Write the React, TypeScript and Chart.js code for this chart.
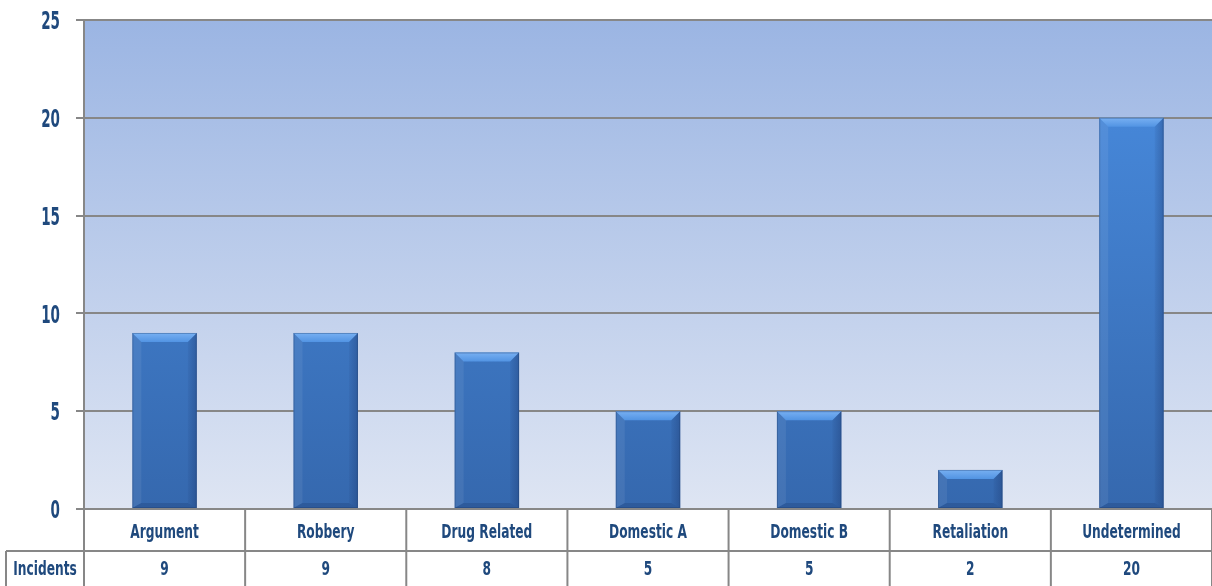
import React, { useEffect, useRef } from "react";
import { Chart, registerables } from "chart.js";

Chart.register(...registerables);

const categories = ["Argument", "Robbery", "Drug Related", "Domestic A", "Domestic B", "Retaliation", "Undetermined"];
const incidents = [9, 9, 8, 5, 5, 2, 20];
const seriesLabel = "Incidents";
const yMin = 0;
const yMax = 25;
const yStep = 5;

const FONT = "'DejaVu Sans Condensed', 'DejaVu Sans', sans-serif";
const TEXT = "#1F497D";
const LINE = "#878787";

function narrowText(ctx: any, text: string, x: number, yCenter: number, size: number, sx: number, align: "center" | "right") {
  ctx.save();
  ctx.font = `bold ${size}px ${FONT}`;
  ctx.fillStyle = TEXT;
  ctx.textAlign = align;
  ctx.textBaseline = "alphabetic";
  ctx.translate(x, yCenter + size * 0.365);
  ctx.scale(sx, 1);
  ctx.fillText(text, 0, 0);
  ctx.restore();
}

const bgPlugin = {
  id: "plotBg",
  beforeDraw(chart: any) {
    const { ctx, chartArea: a } = chart;
    const g = ctx.createLinearGradient(0, a.top, 0, a.bottom);
    g.addColorStop(0, "#9BB5E3");
    g.addColorStop(1, "#DEE5F3");
    ctx.save();
    ctx.fillStyle = g;
    ctx.fillRect(a.left, a.top, a.right - a.left, a.bottom - a.top);
    ctx.restore();
  },
};

const yLabelPlugin = {
  id: "yLabels",
  afterDraw(chart: any) {
    const ys = chart.scales.y;
    ys.ticks.forEach((t: any) => {
      const py = ys.getPixelForValue(t.value);
      narrowText(chart.ctx, String(t.value), 60, py, 25, 0.6, "right");
    });
  },
};

const bevelPlugin = {
  id: "bevel",
  afterDatasetsDraw(chart: any) {
    const { ctx } = chart;
    const meta = chart.getDatasetMeta(0);
    ctx.save();
    meta.data.forEach((el: any) => {
      const p = el.getProps(["x", "y", "base", "width"], true);
      const L = p.x - p.width / 2;
      const R = p.x + p.width / 2;
      const T = p.y;
      const B = p.base;
      const b = Math.min(9, (B - T) / 2);
      const bb = Math.min(5, (B - T) / 4);
      const tg = ctx.createLinearGradient(0, T, 0, T + b);
      tg.addColorStop(0, "#78B0F2");
      tg.addColorStop(1, "#5294E3");
      ctx.fillStyle = tg;
      ctx.beginPath();
      ctx.moveTo(L, T);
      ctx.lineTo(R, T);
      ctx.lineTo(R - b, T + b);
      ctx.lineTo(L + b, T + b);
      ctx.closePath();
      ctx.fill();
      ctx.fillStyle = "rgba(255,255,255,0.07)";
      ctx.beginPath();
      ctx.moveTo(L, T);
      ctx.lineTo(L + b, T + b);
      ctx.lineTo(L + b, B - bb);
      ctx.lineTo(L, B);
      ctx.closePath();
      ctx.fill();
      const rg = ctx.createLinearGradient(R - b, 0, R, 0);
      rg.addColorStop(0, "rgba(20,40,90,0.06)");
      rg.addColorStop(1, "rgba(20,40,90,0.30)");
      ctx.fillStyle = rg;
      ctx.beginPath();
      ctx.moveTo(R, T);
      ctx.lineTo(R - b, T + b);
      ctx.lineTo(R - b, B - bb);
      ctx.lineTo(R, B);
      ctx.closePath();
      ctx.fill();
      ctx.fillStyle = "rgba(20,40,90,0.22)";
      ctx.beginPath();
      ctx.moveTo(L, B);
      ctx.lineTo(L + b, B - bb);
      ctx.lineTo(R - b, B - bb);
      ctx.lineTo(R, B);
      ctx.closePath();
      ctx.fill();
      ctx.strokeStyle = "rgba(30,60,110,0.35)";
      ctx.lineWidth = 1;
      ctx.strokeRect(L + 0.5, T + 0.5, p.width - 1, B - T - 1);
    });
    ctx.restore();
  },
};

const tablePlugin = {
  id: "dataTable",
  afterDraw(chart: any) {
    const { ctx, chartArea: a } = chart;
    const xs = chart.scales.x;
    const H = chart.height;
    const row1Top = a.bottom;
    const row2Top = a.bottom + 42;
    const n = categories.length;
    const colW = (a.right - a.left) / n;
    ctx.save();
    ctx.strokeStyle = LINE;
    ctx.lineWidth = 2;
    ctx.beginPath();
    ctx.moveTo(6, row2Top);
    ctx.lineTo(a.right, row2Top);
    ctx.stroke();
    ctx.beginPath();
    ctx.moveTo(6, row2Top);
    ctx.lineTo(6, H);
    for (let i = 0; i <= n; i++) {
      const xv = i < n ? xs.getPixelForValue(i) - colW / 2 : xs.getPixelForValue(n - 1) + colW / 2;
      ctx.moveTo(xv, row1Top);
      ctx.lineTo(xv, H);
    }
    ctx.stroke();
    ctx.restore();
    categories.forEach((c, i) => {
      const cx = xs.getPixelForValue(i);
      narrowText(ctx, c, cx, row1Top + 22, 20, 0.68, "center");
      narrowText(ctx, String(incidents[i]), cx, row2Top + 17, 20, 0.68, "center");
    });
    narrowText(ctx, seriesLabel, (6 + a.left) / 2, row2Top + 17, 20, 0.68, "center");
  },
};

export default function App() {
  const ref = useRef<HTMLCanvasElement | null>(null);
  useEffect(() => {
    document.body.style.margin = "0";
    const canvas = ref.current!;
    const chart = new Chart(canvas, {
      type: "bar",
      data: {
        labels: categories,
        datasets: [
          {
            label: seriesLabel,
            data: incidents,
            barPercentage: 0.4,
            categoryPercentage: 1.0,
            borderWidth: 0,
            backgroundColor: (c: any) => {
              const a = c.chart.chartArea;
              if (!a) return "#3F7BC9";
              const g = c.chart.ctx.createLinearGradient(0, a.top, 0, a.bottom);
              g.addColorStop(0, "#4A8EE2");
              g.addColorStop(1, "#3568AE");
              return g;
            },
          },
        ],
      },
      options: {
        responsive: false,
        animation: false,
        layout: { padding: { top: 20, bottom: 77, left: 0, right: 0 } },
        plugins: { legend: { display: false }, tooltip: { enabled: false } },
        scales: {
          x: { display: false, offset: true },
          y: {
            min: yMin,
            max: yMax,
            afterFit: (s: any) => {
              s.width = 84;
            },
            ticks: { stepSize: yStep, display: false },
            grid: { color: LINE, lineWidth: 2, tickLength: 8, drawTicks: true },
            border: { display: true, color: LINE, width: 2 },
          },
        },
      },
      plugins: [bgPlugin, bevelPlugin, tablePlugin, yLabelPlugin],
    });
    return () => chart.destroy();
  }, []);
  return (
    <div style={{ position: "fixed", left: 0, top: 0, width: 1212, height: 586 }}>
      <canvas ref={ref} width={1212} height={586} style={{ display: "block" }} />
    </div>
  );
}
